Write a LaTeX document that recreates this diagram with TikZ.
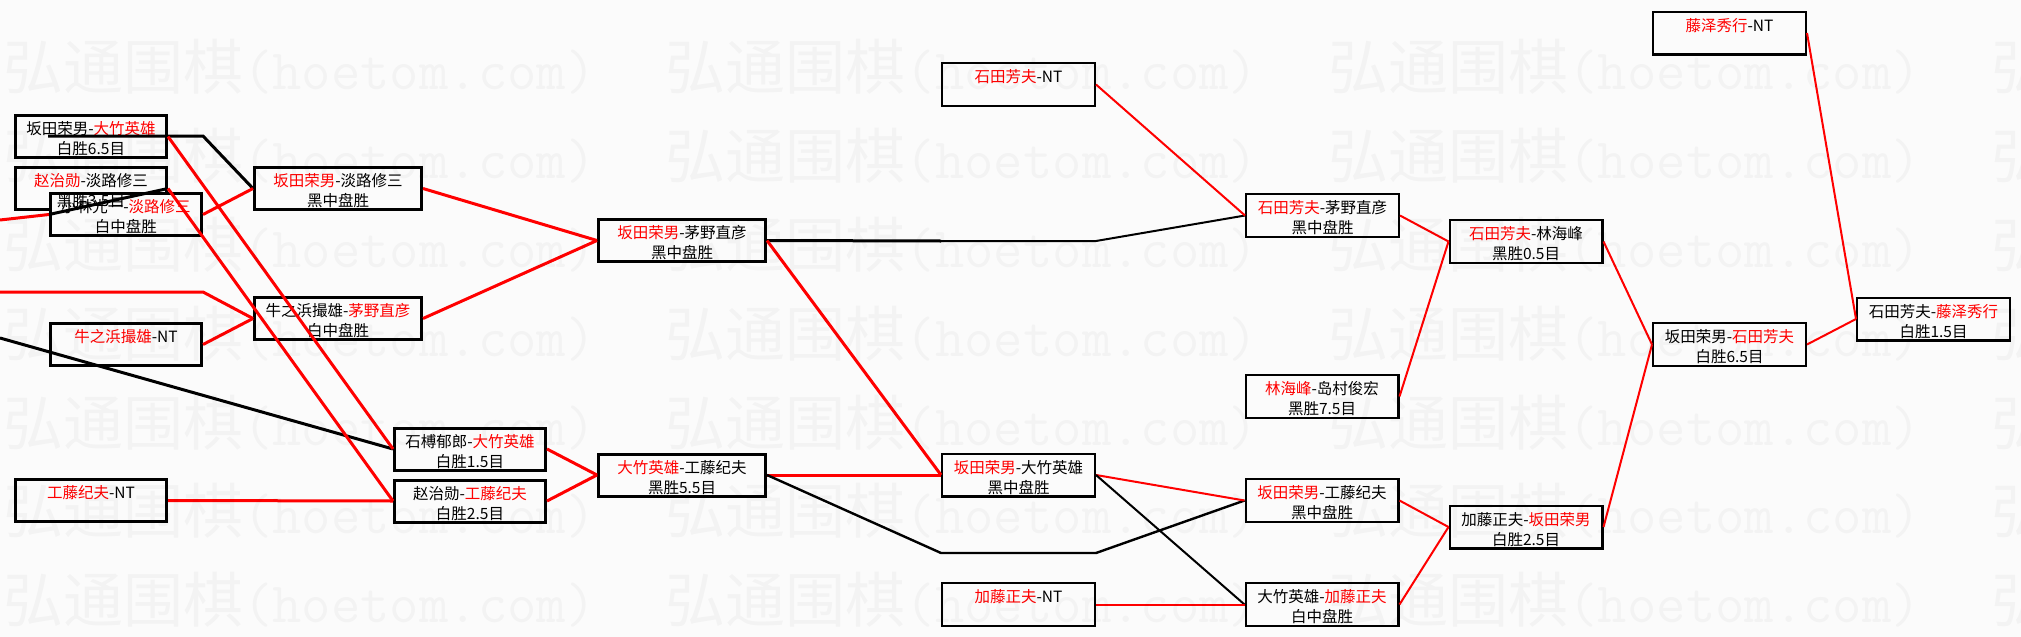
\documentclass[tikz,border=0pt]{standalone}
\usepackage{fontspec}
\setmainfont{Noto Sans CJK SC}
\newfontfamily\wmcjk{Noto Sans CJK SC}
\definecolor{bgc}{RGB}{251,251,251}
\definecolor{lred}{RGB}{255,0,0}
\newcommand\bst{\rule[-1.4pt]{0pt}{19.6pt}}
\newcommand\rd[1]{\textcolor{lred}{#1}}
\begin{document}
\begin{tikzpicture}[x=1pt,y=-1pt,
  box/.style={draw=black,line width=3pt,fill=bgc,minimum width=151pt,minimum height=42pt,inner sep=0pt},
  widebox/.style={box,minimum width=167pt},
  rbox/.style={box,line width=2.4pt,minimum width=152.6pt,minimum height=42.6pt},
  txt/.style={inner sep=0pt,align=center,font=\fontsize{15.5}{20}\selectfont},
  redl/.style={draw=lred,line width=3pt,line join=miter},
  blkl/.style={draw=black,line width=3pt,line join=miter},
  thinred/.style={draw=lred,line width=2pt},
  thinblk/.style={draw=black,line width=2pt},
  wm/.style={inner sep=0pt,text=black,opacity=0.03}
]
\useasboundingbox[fill=bgc] (0,0) rectangle (2021,637);

% ---------- boxes ----------
\node[box] (A) at (91,136.5) {};
\node[box] (B) at (91,188.5) {};
\node[box] (C) at (126,214.5) {};
\node[widebox] (D) at (338,188.5) {};
\node[widebox] (I) at (338,318.5) {};
\node[box] (J) at (126,344.5) {};
\node[widebox] (K) at (682,240.5) {};
\node[box] (E) at (470,449) {};
\node[box] (F) at (470,501) {};
\node[widebox] (G) at (682,475) {};
\node[box] (H) at (91,500.5) {};
\node[rbox] (M) at (1018.5,84.5) {};
\node[rbox] (L) at (1322.5,215.5) {};
\node[rbox] (N) at (1322,396.5) {};
\node[rbox] (O) at (1018.5,475) {};
\node[rbox] (P) at (1322,500.5) {};
\node[rbox] (Q) at (1018.5,604.5) {};
\node[rbox] (R) at (1322,604.5) {};
\node[rbox] (S) at (1526,241.5) {};
\node[rbox] (T) at (1526,527) {};
\node[rbox] (U) at (1729.5,344.5) {};
\node[rbox] (V) at (1933.5,319) {};
\node[rbox] (W) at (1729.5,33) {};

% ---------- texts ----------
\node[txt] (A-t) at (A.center) {\bst 坂田荣男-\rd{大竹英雄}\\\bst 白胜6.5目};
\node[txt] (C-t) at (C.center) {\bst 小林光一-\rd{淡路修三}\\\bst 白中盘胜};
\node[txt] (B-t) at (B.center) {\bst \rd{赵治勋}-淡路修三\\\bst 黑胜3.5目};
\node[txt] (D-t) at (D.center) {\bst \rd{坂田荣男}-淡路修三\\\bst 黑中盘胜};
\node[txt] (I-t) at (I.center) {\bst 牛之浜撮雄-\rd{茅野直彦}\\\bst 白中盘胜};
\node[txt] (J-t) at (J.center) {\bst \rd{牛之浜撮雄}-NT\\\bst};
\node[txt] (K-t) at (K.center) {\bst \rd{坂田荣男}-茅野直彦\\\bst 黑中盘胜};
\node[txt] (E-t) at (E.center) {\bst 石榑郁郎-\rd{大竹英雄}\\\bst 白胜1.5目};
\node[txt] (F-t) at (F.center) {\bst 赵治勋-\rd{工藤纪夫}\\\bst 白胜2.5目};
\node[txt] (G-t) at (G.center) {\bst \rd{大竹英雄}-工藤纪夫\\\bst 黑胜5.5目};
\node[txt] (H-t) at (H.center) {\bst \rd{工藤纪夫}-NT\\\bst};
\node[txt] (M-t) at (M.center) {\bst \rd{石田芳夫}-NT\\\bst};
\node[txt] (L-t) at (L.center) {\bst \rd{石田芳夫}-茅野直彦\\\bst 黑中盘胜};
\node[txt] (N-t) at (N.center) {\bst \rd{林海峰}-岛村俊宏\\\bst 黑胜7.5目};
\node[txt] (O-t) at (O.center) {\bst \rd{坂田荣男}-大竹英雄\\\bst 黑中盘胜};
\node[txt] (P-t) at (P.center) {\bst \rd{坂田荣男}-工藤纪夫\\\bst 黑中盘胜};
\node[txt] (Q-t) at (Q.center) {\bst \rd{加藤正夫}-NT\\\bst};
\node[txt] (R-t) at (R.center) {\bst 大竹英雄-\rd{加藤正夫}\\\bst 白中盘胜};
\node[txt] (S-t) at (S.center) {\bst \rd{石田芳夫}-林海峰\\\bst 黑胜0.5目};
\node[txt] (T-t) at (T.center) {\bst 加藤正夫-\rd{坂田荣男}\\\bst 白胜2.5目};
\node[txt] (U-t) at (U.center) {\bst 坂田荣男-\rd{石田芳夫}\\\bst 白胜6.5目};
\node[txt] (V-t) at (V.center) {\bst 石田芳夫-\rd{藤泽秀行}\\\bst 白胜1.5目};
\node[txt] (W-t) at (W.center) {\bst \rd{藤泽秀行}-NT\\\bst};

% ---------- free ends and bends ----------
\coordinate (in1) at (0,220);
\coordinate (in2) at (0,292);
\coordinate (in2b) at (203,292);
\coordinate (in3) at (0,338);
\coordinate (a1) at (48,136);
\coordinate (a2) at (203,136);
\coordinate (k1) at (941,241);
\coordinate (k2) at (1096,241);
\coordinate (g1) at (941,553);
\coordinate (g2) at (1096,553);

% ---------- connectors ----------
\draw[blkl] (a1) -- (a2) -- (D.west);
\draw[redl] (in1) -- (C.west);
\draw[blkl] (C.west) -- (B.east);
\draw[redl] (C.east) -- (D.west);
\draw[redl] (in2) -- (in2b) -- (I.west);
\draw[redl] (J.east) -- (I.west);
\draw[blkl] (in3) -- (E.west);
\draw[redl] (A.east) -- (E.west);
\draw[redl] (B.east) -- (F.west);
\draw[redl] (H.east) -- (F.west);
\draw[redl] (D.east) -- (K.west);
\draw[redl] (I.east) -- (K.west);
\draw[redl] (E.east) -- (G.west);
\draw[redl] (F.east) -- (G.west);
\draw[blkl] (K.east) -- (k1);
\draw[thinblk] (k1) -- (k2) -- (L.west);
\draw[redl] (K.east) -- (O.west);
\draw[redl] (G.east) -- (O.west);
\draw[blkl,line width=2.4pt] (G.east) -- (g1) -- (g2) -- (P.west);
\draw[thinred] (M.east) -- (L.west);
\draw[thinred] (O.east) -- (P.west);
\draw[thinblk] (O.east) -- (R.west);
\draw[thinred] (Q.east) -- (R.west);
\draw[thinred] (L.east) -- (S.west);
\draw[thinred] (N.east) -- (S.west);
\draw[thinred] (P.east) -- (T.west);
\draw[thinred] (R.east) -- (T.west);
\draw[thinred] (S.east) -- (U.west);
\draw[thinred] (T.east) -- (U.west);
\draw[thinred] (U.east) -- (V.west);
\draw[thinred] (W.east) -- (V.west);

% ---------- watermark ----------
\foreach \r in {0,...,6}{
  \foreach \c in {0,...,3}{
    \node[wm,anchor=base west] (wm-\r-\c) at ({3+662.7*\c},{89.8+88.8*\r})
      {\makebox[240pt][l]{\wmcjk\fontsize{60}{60}\selectfont 弘通围棋}\makebox[360pt][l]{\ttfamily\fontsize{57}{57}\selectfont (hoetom.com)}};
  }
}
\end{tikzpicture}
\end{document}
